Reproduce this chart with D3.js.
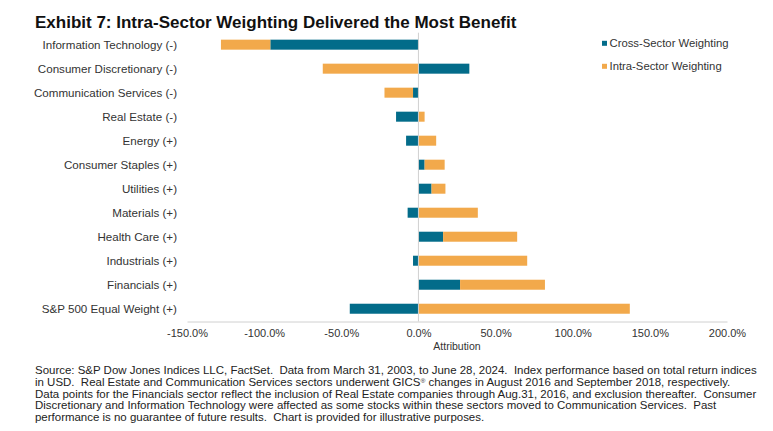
<!DOCTYPE html>
<html>
<head>
<meta charset="utf-8">
<script src="https://cdn.jsdelivr.net/npm/d3@7"></script>
<style>
  body { margin: 0; background: #fff; }
  svg { display: block; font-family: "Liberation Sans", Arial, sans-serif; }
  .note text { white-space: pre; }
</style>
</head>
<body>
<div id="chart"></div>
<script>
// data (percent attribution)
const sectors = [
  "Information Technology (-)", "Consumer Discretionary (-)", "Communication Services (-)",
  "Real Estate (-)", "Energy (+)", "Consumer Staples (+)", "Utilities (+)", "Materials (+)",
  "Health Care (+)", "Industrials (+)", "Financials (+)", "S&P 500 Equal Weight (+)"
];
const crossSector = [-96, 33, -3.5, -14.5, -8, 4, 8.5, -7, 16, -3.5, 27, -44.5];
const intraSector = [-32, -62, -18.5, 4, 11.5, 13, 9, 38.5, 48, 70.5, 55, 137];
const seriesNames = ["Cross-Sector Weighting", "Intra-Sector Weighting"];
const xTicks = [-150, -100, -50, 0, 50, 100, 150, 200];
// "|®|" marks the superscript registered sign
const sourceLines = [
  "Source: S&P Dow Jones Indices LLC, FactSet.  Data from March 31, 2003, to June 28, 2024.  Index performance based on total return indices",
  "in USD.  Real Estate and Communication Services sectors underwent GICS|\u00AE|changes in August 2016 and September 2018, respectively.",
  "Data points for the Financials sector reflect the inclusion of Real Estate companies through Aug.31, 2016, and exclusion thereafter.  Consumer",
  "Discretionary and Information Technology were affected as some stocks within these sectors moved to Communication Services.  Past",
  "performance is no guarantee of future results.  Chart is provided for illustrative purposes."
];

const W = 773, H = 431;
const colors = ["#036c8a", "#f2a94b"];

const svg = d3.select("#chart")
  .append("svg")
  .attr("width", W)
  .attr("height", H);

// title
svg.append("text")
  .attr("x", 35)
  .attr("y", 28)
  .attr("font-size", 17)
  .attr("font-weight", "bold")
  .attr("fill", "#111")
  .text("Exhibit 7: Intra-Sector Weighting Delivered the Most Benefit");

// scales
const x = d3.scaleLinear()
  .domain([-150, 200])
  .range([187, 727]);

const y = d3.scaleBand()
  .domain(sectors)
  .range([32.7, 320.7])
  .paddingInner(0.583)
  .paddingOuter(0.29);

// stacked rows, negatives and positives stack apart
const rows = sectors.map((s, i) => ({ sector: s, cross: crossSector[i], intra: intraSector[i] }));
const stack = d3.stack()
  .keys(["cross", "intra"])
  .offset(d3.stackOffsetDiverging);
const layers = stack(rows);

svg.selectAll("g.layer")
  .data(layers)
  .enter()
  .append("g")
  .attr("class", "layer")
  .attr("fill", (d, i) => colors[i])
  .selectAll("rect")
  .data(d => d)
  .enter()
  .append("rect")
  .attr("x", d => x(Math.min(d[0], d[1])))
  .attr("y", d => y(d.data.sector))
  .attr("width", d => Math.abs(x(d[1]) - x(d[0])))
  .attr("height", y.bandwidth());

// zero line
svg.append("line")
  .attr("x1", x(0)).attr("x2", x(0))
  .attr("y1", 32.7).attr("y2", 321.5)
  .attr("stroke", "#d0d0d0")
  .attr("stroke-width", 1);

// x axis
const xAxis = d3.axisBottom(x)
  .tickValues(xTicks)
  .tickSize(0)
  .tickPadding(8)
  .tickFormat(d => d.toFixed(1) + "%");

const gx = svg.append("g")
  .attr("transform", "translate(0,321.5)")
  .call(xAxis);
gx.select(".domain").attr("stroke", "#d0d0d0");
gx.selectAll("text")
  .attr("font-size", 11)
  .attr("font-family", "Liberation Sans, Arial, sans-serif")
  .attr("fill", "#333");

svg.append("text")
  .attr("x", (x.range()[0] + x.range()[1]) / 2)
  .attr("y", 349.5)
  .attr("text-anchor", "middle")
  .attr("font-size", 10.5)
  .attr("fill", "#333")
  .text("Attribution");

// category labels
svg.selectAll("text.cat")
  .data(sectors)
  .enter()
  .append("text")
  .attr("class", "cat")
  .attr("x", 177)
  .attr("y", d => y(d) + y.bandwidth() / 2)
  .attr("dy", "0.35em")
  .attr("text-anchor", "end")
  .attr("font-size", 11.6)
  .attr("fill", "#333")
  .text(d => d);

// legend
const legend = svg.append("g")
  .attr("transform", "translate(602,43.3)");
const li = legend.selectAll("g")
  .data(seriesNames)
  .enter()
  .append("g")
  .attr("transform", (d, i) => `translate(0,${i * 23})`);
li.append("rect")
  .attr("x", 0).attr("y", -2.5)
  .attr("width", 5).attr("height", 5)
  .attr("fill", (d, i) => colors[i]);
li.append("text")
  .attr("x", 7.5)
  .attr("dy", "0.35em")
  .attr("font-size", 11.3)
  .attr("fill", "#333")
  .text(d => d);

// source note, slightly wide like the original pdf text
const note = svg.append("g")
  .attr("class", "note");
const noteText = note.selectAll("text")
  .data(sourceLines)
  .enter()
  .append("text")
  .attr("x", 0)
  .attr("y", (d, i) => 374.5 + i * 11.65)
  .attr("font-size", 10.4)
  .attr("fill", "#222");
noteText.each(function(d) {
  const parts = d.split("|");
  const t = d3.select(this);
  parts.forEach((p, j) => {
    if (j === 1) {
      t.append("tspan").attr("font-size", 6).attr("dy", -3.5).text(p);
    } else {
      t.append("tspan").attr("dy", j === 2 ? 3.5 : null).text(j === 2 ? " " + p : p);
    }
  });
});
const firstLen = note.select("text").node().getComputedTextLength();
const sx = 722 / firstLen;
note.attr("transform", `translate(35,0) scale(${sx},1)`);
</script>
</body>
</html>
